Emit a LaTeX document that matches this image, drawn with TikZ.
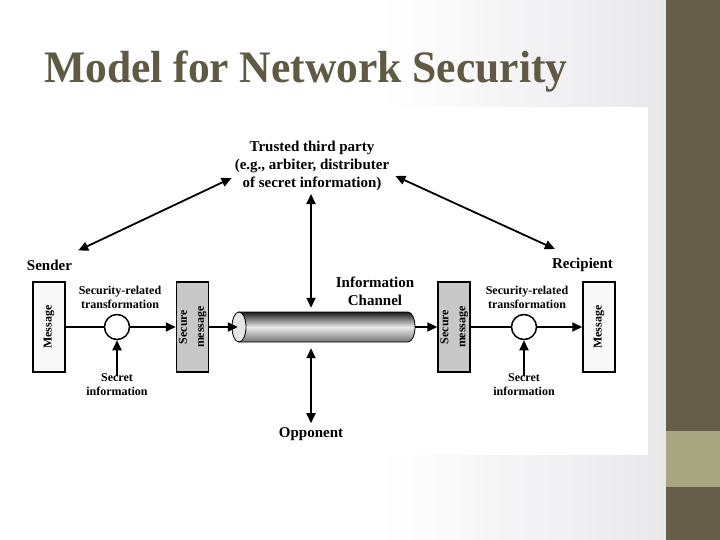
\documentclass[tikz,border=0pt]{standalone}
\usepackage{fontspec}
\setmainfont{Liberation Serif}
\usetikzlibrary{arrows.meta, positioning, calc}
\definecolor{barDark}{RGB}{102,94,72}
\definecolor{barLight}{RGB}{168,166,128}
\definecolor{titleCol}{RGB}{96,89,68}
\definecolor{bgGray}{RGB}{232,232,235}
\definecolor{secFill}{RGB}{200,200,200}
\definecolor{msgFill}{RGB}{248,248,248}

\tikzset{
	box/.style={draw, line width=1.5pt, minimum width=32pt, minimum height=90pt, inner sep=0pt,
		font=\fontsize{12}{14}\selectfont\bfseries},
	ring/.style={circle, draw, line width=1.5pt, minimum size=25pt, inner sep=0pt, fill=white},
	lbl/.style={align=center, inner sep=2pt, font=\fontsize{12}{14}\selectfont\bfseries},
	biglbl/.style={align=center, inner sep=3pt, font=\fontsize{15}{18}\selectfont\bfseries},
	tip/.tip={Triangle[length=10pt,width=9pt]},
	arr/.style={line width=1.8pt, -tip},
	darr/.style={line width=1.8pt, tip-tip},
	wire/.style={line width=1.8pt}
}

\begin{document}
\begin{tikzpicture}[x=1pt, y=-1pt]
	% slide background
	\useasboundingbox (0,0) rectangle (720,540);
	\fill[white] (0,0) rectangle (720,540);
	\shade[left color=white, right color=bgGray] (380,0) rectangle (666,540);
	\fill[barDark] (666,0) rectangle (720,540);
	\fill[barLight] (666,431) rectangle (720,487);
	\fill[white] (20,107) rectangle (648,455);
	
	\node[anchor=base west, inner sep=0pt, text=titleCol, font=\fontsize{45}{50}\selectfont\bfseries]
		(title) at (44,83) {\scalebox{0.967}[1]{Model for Network Security}};
	
	% sender side
	\node[box, fill=msgFill] (msgL) at (49,327) {\rotatebox{90}{Message}};
	\node[ring] (circL) at (117,327) {};
	\node[box, fill=secFill] (secL) at (192.5,327)
		{\rotatebox{90}{\begin{tabular}{@{}c@{}}Secure\\[3pt]message\end{tabular}}};
	\node[lbl] (srtL) at (120,297) {Security-related\\transformation};
	\node[lbl] (secretL) at (117,385) {Secret\\information};
	\node[biglbl] (sender) at (49.5,265) {Sender};
	
	% recipient side
	\node[box, fill=secFill] (secR) at (454,327)
		{\rotatebox{90}{\begin{tabular}{@{}c@{}}Secure\\[3pt]message\end{tabular}}};
	\node[ring] (circR) at (524,327) {};
	\node[box, fill=msgFill] (msgR) at (599,327) {\rotatebox{90}{Message}};
	\node[lbl] (srtR) at (527,297) {Security-related\\transformation};
	\node[lbl] (secretR) at (524,385) {Secret\\information};
	\node[biglbl] (recipient) at (582.5,265) {Recipient};
	
	% channel pipe
	\node[minimum width=183pt, minimum height=30pt, inner sep=0pt] (chan) at (323.5,327) {};
	\shade[top color=black!90, bottom color=black!55, middle color=white!92!black, draw=black, line width=0.8pt]
		(239,312) -- (408,312) arc[start angle=-90, end angle=90, x radius=7, y radius=15]
		-- (239,342) -- cycle;
	\draw[fill=gray!20, line width=0.8pt] (239,327) ellipse[x radius=7, y radius=15];
	\node[biglbl] (chanlbl) at (375,291) {Information\\Channel};
	
	% third parties
	\node[biglbl] (ttp) at (312,166) {Trusted third party\\(e.g., arbiter, distributer\\of secret information)};
	\node[biglbl] (opp) at (311,434) {Opponent};
	
	% connectors
	\draw[wire] (msgL) -- (circL);
	\draw[arr] (circL) -- (secL);
	\draw[arr] ([yshift=-4pt]secretL.north) -- (circL.south);
	\draw[arr] (secL) -- ($(chan.west)+(6,0)$);
	\draw[arr] (chan.east) -- (secR.west);
	\draw[wire] (secR) -- (circR);
	\draw[arr] (circR) -- (msgR);
	\draw[arr] ([yshift=-4pt]secretR.north) -- (circR.south);
	
	\draw[darr, shorten >=4pt] (ttp.south -| opp.north) -- (opp.north |- chan.north);
	\draw[darr, shorten <=6pt, shorten >=1pt] (opp.north |- chan.south) -- (opp.north);
	\draw[darr] ([yshift=-12pt]ttp.west) -- ([xshift=3pt,yshift=6pt]sender.north east);
	\draw[darr] ([xshift=3pt,yshift=-10pt]ttp.east) -- ([xshift=6pt,yshift=6pt]recipient.north west);
\end{tikzpicture}
\end{document}
